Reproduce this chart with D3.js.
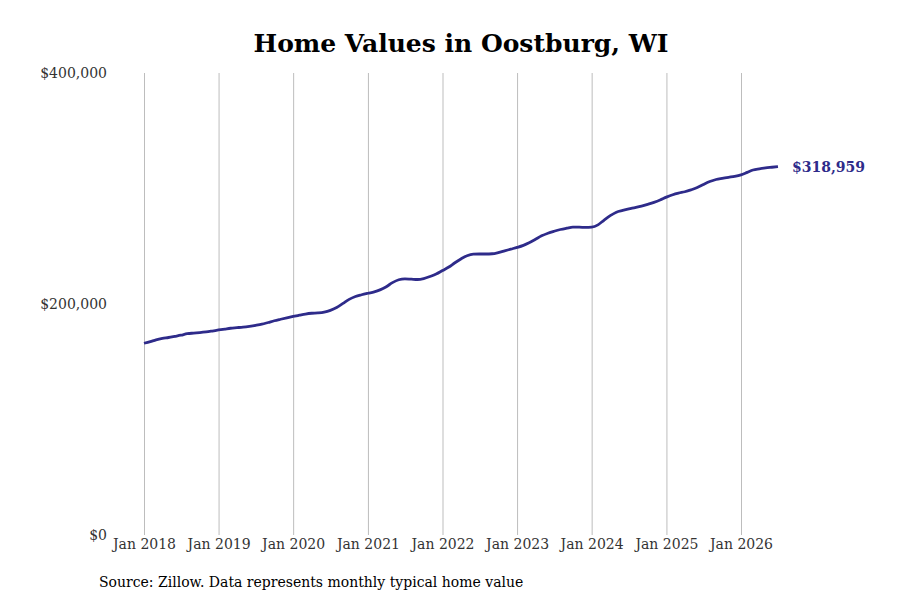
<!DOCTYPE html>
<html>
<head>
<meta charset="utf-8">
<script src="https://cdn.jsdelivr.net/npm/d3@7"></script>
<style>
  body { margin: 0; background: #fff; }
  svg text { font-family: "DejaVu Serif", serif; }
</style>
</head>
<body>
<svg id="chart" width="900" height="600"></svg>
<script>
// monthly typical home value, Jan 2018 .. Jul 2026 (in $)
const startMonth = "2018-01"
const homeValues = [
  166000, 167500, 169000, 170200, 171000, 172000, 173000, 174300, 174800, 175200, 175800, 176600,
  177500, 178300, 179000, 179500, 180000, 180700, 181500, 182500, 184000, 185500, 186800, 188000,
  189200, 190300, 191300, 192000, 192300, 193000, 194500, 197000, 200500, 204000, 206500, 208000,
  209300, 210500, 212200, 215000, 218500, 221000, 221800, 221500, 221200, 222000, 223800, 226000,
  229000, 232000, 235500, 239000, 241800, 243200, 243300, 243300, 243500, 244500, 246000, 247500,
  249000, 250800, 253000, 256000, 259000, 261300, 263000, 264500, 265600, 266500, 266500, 266300,
  266500, 268500, 272500, 276500, 279500, 281000, 282300, 283500, 284800, 286300, 288000, 290000,
  292500, 294600, 296000, 297200, 298800, 300800, 303500, 306000, 307800, 308800, 309700, 310500,
  311800, 314000, 316000, 317000, 317800, 318400, 318959
]
const xTickYears = [2018, 2019, 2020, 2021, 2022, 2023, 2024, 2025, 2026]
const yTickValues = [0, 200000, 400000]

const svg = d3.select("#chart")
const lineColour = "#2e2b8a"

const parseMonth = d3.timeParse("%Y-%m")
const t0 = parseMonth(startMonth)
const data = homeValues.map((v, i) => ({ date: d3.timeMonth.offset(t0, i), value: v }))

const x = d3.scaleTime()
  .domain([new Date(2018, 0, 1), new Date(2026, 0, 1)])
  .range([144, 741])
const y = d3.scaleLinear()
  .domain([0, 400000])
  .range([535, 73])

// title
svg.append("text")
  .attr("x", 461)
  .attr("y", 52)
  .attr("text-anchor", "middle")
  .style("font-size", "25px")
  .style("font-weight", "bold")
  .attr("fill", "#000")
  .text("Home Values in Oostburg, WI")

// vertical gridlines + x labels
const xAxis = d3.axisBottom(x)
  .tickValues(xTickYears.map(yr => new Date(yr, 0, 1)))
  .tickFormat(d3.timeFormat("Jan %Y"))
  .tickSize(-(y(0) - y(400000)))
  .tickPadding(4)
const gx = svg.append("g")
  .attr("transform", "translate(0," + y(0) + ")")
  .call(xAxis)
gx.select(".domain").remove()
gx.selectAll(".tick line").attr("stroke", "#bdbdbd").attr("stroke-width", 1)
gx.selectAll(".tick text")
  .attr("fill", "#333")
  .style("font-size", "14px")
  .style("font-family", "DejaVu Serif")

// y labels only
const yAxis = d3.axisLeft(y)
  .tickValues(yTickValues)
  .tickFormat(d => "$" + d3.format(",")(d))
  .tickSize(0)
  .tickPadding(0)
const gy = svg.append("g")
  .attr("transform", "translate(107,0)")
  .call(yAxis)
gy.select(".domain").remove()
gy.selectAll(".tick text")
  .attr("fill", "#333")
  .style("font-size", "14px")
  .style("font-family", "DejaVu Serif")

// the line
const line = d3.line()
  .x(d => x(d.date))
  .y(d => y(d.value))
  .curve(d3.curveMonotoneX)
svg.append("path")
  .datum(data)
  .attr("fill", "none")
  .attr("stroke", lineColour)
  .attr("stroke-width", 2.8)
  .attr("stroke-linejoin", "round")
  .attr("d", line)

// last value label
const last = data[data.length - 1]
svg.append("text")
  .attr("x", x(last.date) + 14)
  .attr("y", y(last.value))
  .attr("dy", "0.35em")
  .attr("fill", lineColour)
  .style("font-size", "14px")
  .style("font-weight", "bold")
  .text("$" + d3.format(",")(last.value))

// source note
svg.append("text")
  .attr("x", 99)
  .attr("y", 587)
  .attr("fill", "#000")
  .style("font-size", "14px")
  .text("Source: Zillow. Data represents monthly typical home value")
</script>
</body>
</html>
